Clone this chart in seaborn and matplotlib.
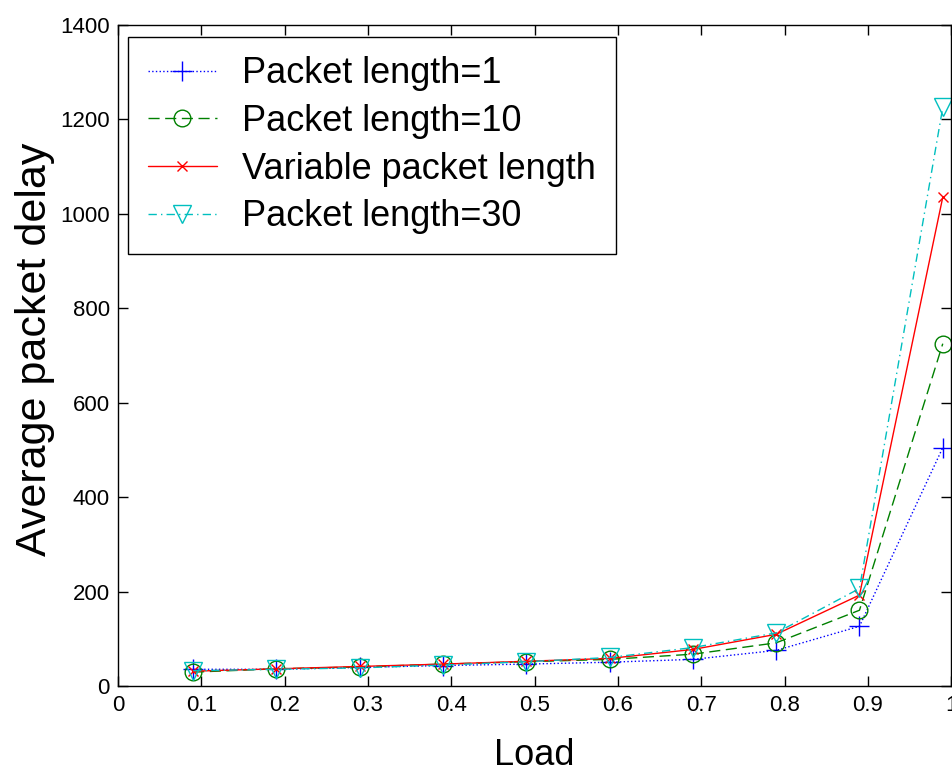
import matplotlib
matplotlib.use("Agg")
import matplotlib.pyplot as plt
import seaborn as sns
import pandas as pd

load = [0.09, 0.19, 0.29, 0.39, 0.49, 0.59, 0.69, 0.79, 0.89, 0.99]
len1 = [36, 36, 40, 44, 47, 51, 57, 76, 127, 505]
len10 = [30, 37, 41, 47, 52, 57, 68, 92, 161, 725]
var_len = [32, 37, 42, 47, 53, 59, 78, 110, 193, 1035]
len30 = [33, 36, 39, 45, 52, 61, 82, 113, 207, 1225]

labels = ["Packet length=1", "Packet length=10", "Variable packet length", "Packet length=30"]
series = [len1, len10, var_len, len30]

sns.set_style("ticks")
plt.rcParams['font.family'] = ['Liberation Sans', 'DejaVu Sans']
plt.rcParams['text.color'] = 'black'
plt.rcParams['axes.labelcolor'] = 'black'
plt.rcParams['xtick.color'] = 'black'
plt.rcParams['ytick.color'] = 'black'

fig = plt.figure(figsize=(9.53, 7.72), dpi=100)
ax = fig.add_axes([0.124, 0.111, 0.874, 0.857])

line_styles = [
    dict(color="#0000ff", linestyle=":"),
    dict(color="#008000", linestyle=(0, (8, 4))),
    dict(color="#ff0000", linestyle="-"),
    dict(color="#00bfbf", linestyle=(0, (6, 3, 1, 3))),
]
marker_styles = [
    dict(marker="+", markersize=14, mec="#0000ff", mfc="#0000ff", mew=1.0),
    dict(marker="o", markersize=12, mec="#008000", mfc="none", mew=1.0),
    dict(marker="x", markersize=7, mec="#ff0000", mfc="#ff0000", mew=1.0),
    dict(marker="v", markersize=13, mec="#00bfbf", mfc="none", mew=1.0),
]

handles = []
for lab, vals, st, mk in zip(labels, series, line_styles, marker_styles):
    df = pd.DataFrame({"Load": load, "Delay": vals})
    n_before = len(ax.lines)
    sns.lineplot(data=df, x="Load", y="Delay", ax=ax, linewidth=1.0, **st)
    ln = ax.lines[n_before]
    ln.set_marker(mk["marker"])
    ln.set_markersize(mk["markersize"])
    ln.set_markeredgecolor(mk["mec"])
    ln.set_markerfacecolor(mk["mfc"])
    ln.set_markeredgewidth(mk["mew"])
    ln.set_label(lab)
    handles.append(ln)

ax.set_xlim(0, 1)
ax.set_ylim(0, 1400)
ax.set_xticks([0, 0.1, 0.2, 0.3, 0.4, 0.5, 0.6, 0.7, 0.8, 0.9, 1])
ax.set_xticklabels(["0", "0.1", "0.2", "0.3", "0.4", "0.5", "0.6", "0.7", "0.8", "0.9", "1"])
ax.set_yticks(range(0, 1401, 200))
ax.tick_params(direction="in", top=True, right=True, labelsize=16, length=7, width=1, pad=6)
for s in ax.spines.values():
    s.set_linewidth(1.0)
    s.set_color("black")
ax.set_xlabel("Load", fontsize=26)
ax.xaxis.set_label_coords(0.5, -0.078)
ax.set_ylabel("Average packet delay", fontsize=31)
ax.yaxis.set_label_coords(-0.0757, 0.51)

leg = ax.legend(handles=handles, labels=labels, loc="upper left", bbox_to_anchor=(0.012, 0.982),
                borderaxespad=0, fontsize=26, fancybox=False, framealpha=1, edgecolor="black",
                handlelength=1.9, handletextpad=0.7, labelspacing=0.35, borderpad=0.55)
leg.get_frame().set_linewidth(1.0)

fig.savefig("out.png", dpi=100)
